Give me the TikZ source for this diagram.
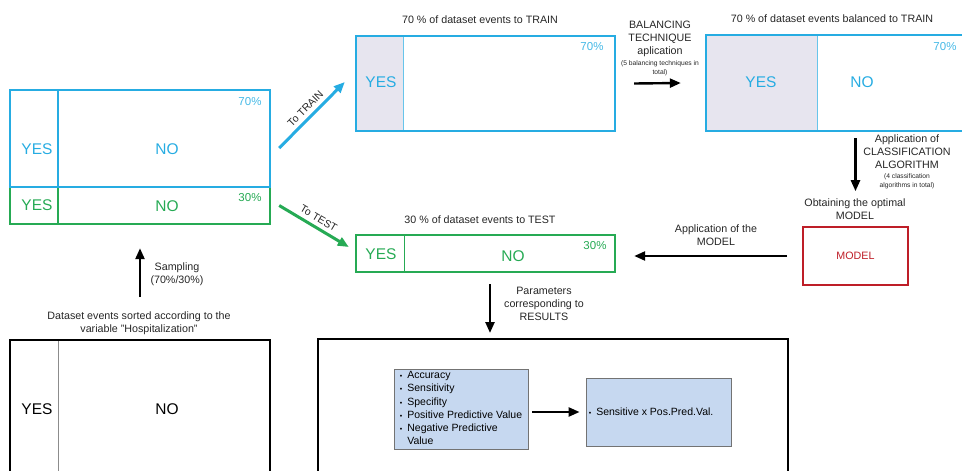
\documentclass[tikz,border=0pt]{standalone}
\usepackage{fontspec}
\setmainfont{Liberation Sans}
\usetikzlibrary{arrows.meta}
\definecolor{trainblue}{RGB}{38,172,226}
\definecolor{pctblue}{RGB}{70,185,230}
\definecolor{testgreen}{RGB}{38,170,84}
\definecolor{modelred}{RGB}{190,30,40}
\definecolor{yesfill}{RGB}{231,229,239}
\definecolor{listfill}{RGB}{198,216,240}
\begin{document}
\begin{tikzpicture}[x=1pt, y=-1pt, inner sep=0pt,
    big/.style={font=\fontsize{15.5}{18}\selectfont},
    pct/.style={font=\fontsize{11.5}{13}\selectfont},
    txt/.style={font=\fontsize{10.7}{13}\selectfont, align=center, text=black!85},
    small/.style={font=\fontsize{6.7}{9.5}\selectfont},
    frame/.style={draw=#1, line width=2.4pt},
    flow/.style={line width=2.4pt, -{Triangle[length=11pt,width=9pt]}},
  ]
  \useasboundingbox (0,0) rectangle (962,471);
  \clip (0,0) rectangle (962,471);

  % sorted dataset
  \node[draw=black!45, line width=0.8pt, minimum width=48, minimum height=160] (dsyes) at (34,420) {};
  \node[frame=black, line width=2pt, minimum width=260, minimum height=160] (ds) at (140,420) {};
  \node[big] (dsyest) at (37,409) {YES};
  \node[big] (dsnot) at (167,409) {NO};
  \node[txt] (dstitle) at (139,323) {Dataset events sorted according to the\\variable "Hospitalization"};

  % sampled dataset 70/30
  \node[frame=testgreen, minimum width=48, minimum height=37] (gyes) at (34,205.5) {};
  \node[frame=testgreen, minimum width=260, minimum height=37] (gsrc) at (140,205.5) {};
  \node[frame=trainblue, minimum width=48, minimum height=97] (byes) at (34,138.5) {};
  \node[frame=trainblue, minimum width=260, minimum height=97] (bsrc) at (140,138.5) {};
  \node[big, text=trainblue] (byest) at (37,149) {YES};
  \node[big, text=trainblue] (bnot) at (167,149) {NO};
  \node[pct, text=pctblue] (bpct) at (250,102) {70\%};
  \node[big, text=testgreen] (gyest) at (37,205) {YES};
  \node[big, text=testgreen] (gnot) at (167,206) {NO};
  \node[pct, text=testgreen] (gpct) at (250,198) {30\%};

  \draw[flow] ([yshift=42]ds.north) -- ([yshift=-23]gsrc.south);
  \node[txt] (samp) at (177,274.5) {Sampling\\(70\%/30\%)};

  % train set
  \node[draw=trainblue!70, fill=yesfill, line width=0.8pt, minimum width=47, minimum height=95] (tryes) at (379.5,83.5) {};
  \node[frame=trainblue, minimum width=259, minimum height=95] (trbox) at (485.5,83.5) {};
  \node[big, text=trainblue] (tryest) at (381,82) {YES};
  \node[pct, text=pctblue] (trpct) at (592,47) {70\%};
  \node[txt] (trtitle) at (480,20) {70 \% of dataset events to TRAIN};

  % test set
  \node[draw=testgreen, line width=0.8pt, minimum width=48, minimum height=37] (tsyes) at (380,253.5) {};
  \node[frame=testgreen, minimum width=259, minimum height=37] (tsbox) at (485.5,253.5) {};
  \node[big, text=testgreen] (tsyest) at (381,254) {YES};
  \node[big, text=testgreen] (tsnot) at (513,256) {NO};
  \node[pct, text=testgreen] (tspct) at (595,246) {30\%};
  \node[txt] (tstitle) at (480,220) {30 \% of dataset events to TEST};

  \draw[flow, trainblue, line width=3pt] ([xshift=8,yshift=-9.5]bsrc.east) -- ([xshift=-10,yshift=1.5]trbox.west)
    node[midway, sloped, above=4pt, txt, font=\fontsize{10.5}{12}\selectfont] {To TRAIN};
  \draw[flow, testgreen, line width=3pt] ([xshift=8]gsrc.east) -- ([xshift=-6,yshift=6.5]tsbox.west)
    node[midway, sloped, above=4pt, txt, font=\fontsize{10.5}{12}\selectfont] {To TEST};

  % balanced train set
  \node[draw=trainblue!70, fill=yesfill, line width=0.8pt, minimum width=111, minimum height=96] (blyes) at (761.5,83) {};
  \node[frame=trainblue, minimum width=274, minimum height=96] (blbox) at (843,83) {};
  \node[big, text=trainblue] (blyest) at (761,82) {YES};
  \node[big, text=trainblue] (blnot) at (862,82) {NO};
  \node[pct, text=pctblue] (blpct) at (945,47) {70\%};
  \node[txt] (bltitle) at (832,19) {70 \% of dataset events balanced to TRAIN};

  \draw[flow] ([xshift=18]trbox.east) -- ([xshift=-24]blbox.west);
  \node[txt] (baltxt) at (660,38.5) {BALANCING\\TECHNIQUE\\aplication};
  \node[small, align=center, text=black!85] (balsub) at (660,68.5) {(5 balancing techniques in\\total)};

  % model
  \node[draw=modelred, line width=1.6pt, minimum width=105, minimum height=58] (model) at (855.5,256) {};
  \node[txt, text=modelred] (modelt) at (855.5,256) {MODEL};
  \node[txt] (opttxt) at (855,209.5) {Obtaining the optimal\\MODEL};

  \draw[flow] ([yshift=-6]blbox.south -| model.north) -- ([yshift=35]model.north);
  \node[txt] (clstxt) at (907,152) {Application of\\CLASSIFICATION\\ALGORITHM};
  \node[small, align=center, text=black!85] (clssub) at (907,181.5) {(4 classification\\algorithms in total)};

  \draw[flow] ([xshift=-15]model.west) -- ([xshift=18]tsbox.east |- model.west);
  \node[txt] (apptxt) at (716,235.5) {Application of the\\MODEL};

  % results
  \node[frame=black, line width=2pt, minimum width=470, minimum height=161] (res) at (553,419.5) {};
  \draw[flow] ([xshift=4.5,yshift=-11]tsbox.south) -- ([xshift=4.5,yshift=5]tsbox.south |- res.north);
  \node[txt] (partxt) at (544,304) {Parameters\\corresponding to\\RESULTS};

  \node[draw=black!55, fill=listfill, line width=0.8pt, minimum width=134, minimum height=80,
    font=\fontsize{10.5}{13.2}\selectfont] (lst) at (461,409) {%
    \begin{tabular}{@{}l@{\hspace{5pt}}l@{}}
      {\scriptsize\textbullet} & Accuracy\\
      {\scriptsize\textbullet} & Sensitivity\\
      {\scriptsize\textbullet} & Specifity\\
      {\scriptsize\textbullet} & Positive Predictive Value\\
      {\scriptsize\textbullet} & Negative Predictive\\
       & Value
    \end{tabular}};
  \node[draw=black!55, fill=listfill, line width=0.8pt, minimum width=145, minimum height=68,
    font=\fontsize{10.5}{13.2}\selectfont] (sel) at (658.5,412) {};
  \node[anchor=west, font=\fontsize{10.5}{13.2}\selectfont] (selt) at ([xshift=3]sel.west) {{\scriptsize\textbullet}\hspace{5pt}Sensitive x Pos.Pred.Val.};
  \draw[flow] ([xshift=4]lst.east |- sel.west) -- ([xshift=-6]sel.west);
\end{tikzpicture}
\end{document}
